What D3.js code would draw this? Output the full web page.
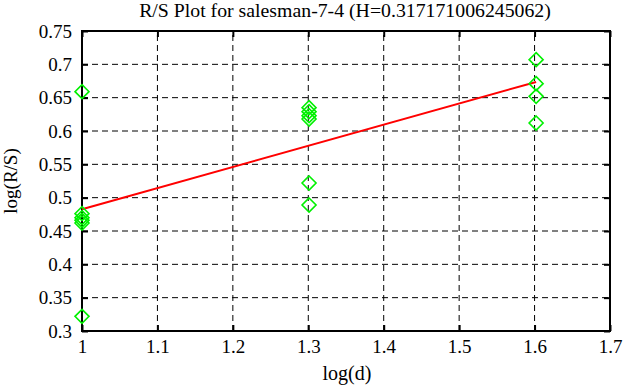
<!DOCTYPE html>
<html>
<head>
<meta charset="utf-8">
<script src="https://cdn.jsdelivr.net/npm/d3@7"></script>
<style>
  body { margin: 0; background: #fff; }
  svg text { font-family: "Liberation Serif", "DejaVu Serif", serif !important; }
</style>
</head>
<body>
<div id="chart"></div>
<script>
// data
var xCats = [1, 1.30103, 1.60206];
var yAt1 = [0.659, 0.476, 0.470, 0.466, 0.462, 0.322];
var yAt13 = [0.635, 0.629, 0.623, 0.618, 0.522, 0.489];
var yAt16 = [0.707, 0.671, 0.652, 0.612];
var hurst = 0.317171006245062;
var intercept = 0.1655;
var xTicks = [1, 1.1, 1.2, 1.3, 1.4, 1.5, 1.6, 1.7];
var yTicks = [0.3, 0.35, 0.4, 0.45, 0.5, 0.55, 0.6, 0.65, 0.7, 0.75];

var points = [];
[yAt1, yAt13, yAt16].forEach(function(ys, i) {
	ys.forEach(function(v) { points.push({x: xCats[i], y: v}); });
});

var W = 626, H = 387;
var m = {left: 82, right: 16, top: 31, bottom: 56};

var svg = d3.select("#chart").append("svg")
				.attr("width", W)
				.attr("height", H);

var x = d3.scaleLinear().domain([1, 1.7]).range([m.left, W - m.right]);
var y = d3.scaleLinear().domain([0.3, 0.75]).range([H - m.bottom, m.top]);

/** grid **/
svg.append("g").selectAll("line")
	.data(xTicks.slice(1, -1)).enter().append("line")
	.attr("x1", d => x(d)).attr("x2", d => x(d))
	.attr("y1", y(0.3)).attr("y2", y(0.75))
	.style("stroke", "#000").style("stroke-width", 1)
	.style("stroke-dasharray", "6,4");
svg.append("g").selectAll("line")
	.data(yTicks.slice(1, -1)).enter().append("line")
	.attr("x1", x(1)).attr("x2", x(1.7))
	.attr("y1", d => y(d)).attr("y2", d => y(d))
	.style("stroke", "#000").style("stroke-width", 1)
	.style("stroke-dasharray", "6,4");

/** axes, ticks inward on all four sides **/
var fmt = d => String(d);
var axBottom = svg.append("g").attr("transform", "translate(0," + y(0.3) + ")")
	.call(d3.axisBottom(x).tickValues(xTicks).tickFormat(fmt).tickSizeInner(-6).tickSizeOuter(0).tickPadding(9));
var axLeft = svg.append("g").attr("transform", "translate(" + x(1) + ",0)")
	.call(d3.axisLeft(y).tickValues(yTicks).tickFormat(fmt).tickSizeInner(-6).tickSizeOuter(0).tickPadding(10));
var axTop = svg.append("g").attr("transform", "translate(0," + y(0.75) + ")")
	.call(d3.axisTop(x).tickValues(xTicks).tickFormat("").tickSizeInner(-6).tickSizeOuter(0));
var axRight = svg.append("g").attr("transform", "translate(" + x(1.7) + ",0)")
	.call(d3.axisRight(y).tickValues(yTicks).tickFormat("").tickSizeInner(-6).tickSizeOuter(0));
[axBottom, axLeft, axTop, axRight].forEach(function(g) {
	g.attr("font-family", null).attr("font-size", null);
	g.select(".domain").remove();
	g.selectAll(".tick line").style("stroke", "#000").style("stroke-width", 2);
	g.selectAll("text").style("font-size", "19px").style("fill", "#000");
});

svg.append("rect")
	.attr("x", x(1)).attr("y", y(0.75))
	.attr("width", x(1.7) - x(1)).attr("height", y(0.3) - y(0.75))
	.style("fill", "none").style("stroke", "#000").style("stroke-width", 2);

/** fitted line **/
svg.append("line")
	.attr("x1", x(xCats[0])).attr("y1", y(intercept + hurst * xCats[0]))
	.attr("x2", x(xCats[2])).attr("y2", y(intercept + hurst * xCats[2]))
	.style("stroke", "#ff0000").style("stroke-width", 2);

/** diamonds **/
svg.append("g").selectAll("path")
	.data(points).enter().append("path")
	.attr("transform", d => "translate(" + x(d.x) + "," + y(d.y) + ")")
	.attr("d", "M0,-7L7,0L0,7L-7,0Z")
	.style("fill", "none").style("stroke", "#00f000").style("stroke-width", 1.6);

/** titles **/
svg.append("text").text("R/S Plot for salesman-7-4 (H=0.317171006245062)")
	.attr("x", 345).attr("y", 17).attr("text-anchor", "middle")
	.style("font-size", "19.8px");
svg.append("text").text("log(d)")
	.attr("x", 347).attr("y", 380).attr("text-anchor", "middle")
	.style("font-size", "20px");
svg.append("text").text("log(R/S)")
	.attr("transform", "translate(16.5," + ((y(0.3) + y(0.75)) / 2) + ") rotate(-90)")
	.attr("text-anchor", "middle")
	.style("font-size", "19px");
</script>
</body>
</html>
